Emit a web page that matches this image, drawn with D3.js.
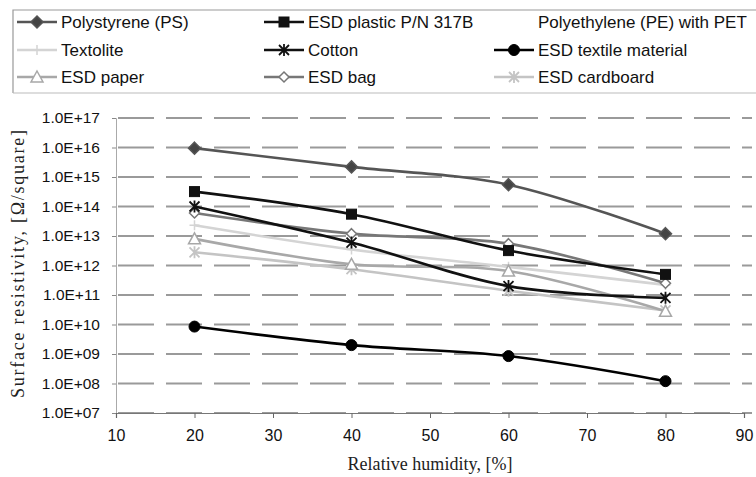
<!DOCTYPE html>
<html>
<head>
<meta charset="utf-8">
<script src="https://cdn.jsdelivr.net/npm/d3@7"></script>
<style>
  body { margin: 0; background: #fff; }
  svg { display: block; }
</style>
</head>
<body>
<svg id="chart" width="756" height="477"></svg>
<script>
// humidity points and resistivity values
const humidity = [20, 40, 60, 80];
const xTicks = [10, 20, 30, 40, 50, 60, 70, 80, 90];
const yTicks = [1e7, 1e8, 1e9, 1e10, 1e11, 1e12, 1e13, 1e14, 1e15, 1e16, 1e17];

const polystyrene = [9.5e15, 2.2e15, 5.5e14, 1.2e13];
const esdPlastic = [3.2e14, 5.5e13, 3.2e12, 5e11];
const polyethylenePET = [];
const textolite = [2.3e13, 3.5e12, 9e11, 2.2e11];
const cotton = [1e14, 6e12, 2e11, 8e10];
const esdTextile = [8.5e9, 2e9, 8.5e8, 1.2e8];
const esdPaper = [8e12, 1.1e12, 6.5e11, 2.8e10];
const esdBag = [6e13, 1.2e13, 5.5e12, 2.5e11];
const esdCardboard = [2.8e12, 7.5e11, 1.4e11, 3e10];

const seriesNames = [
  "Polystyrene (PS)", "ESD plastic P/N 317B", "Polyethylene (PE) with PET",
  "Textolite", "Cotton", "ESD textile material",
  "ESD paper", "ESD bag", "ESD cardboard"
];

const series = [
  { name: seriesNames[0], values: polystyrene, color: "#555", marker: "diamond", fill: "#444", size: 6 },
  { name: seriesNames[1], values: esdPlastic, color: "#111", marker: "square", fill: "#111", size: 5 },
  { name: seriesNames[2], values: polyethylenePET, color: "#fff", marker: "none", fill: "#fff", size: 0 },
  { name: seriesNames[3], values: textolite, color: "#d4d4d4", marker: "plus", fill: "none", size: 5 },
  { name: seriesNames[4], values: cotton, color: "#111", marker: "star", fill: "none", size: 5 },
  { name: seriesNames[5], values: esdTextile, color: "#000", marker: "circle", fill: "#000", size: 5.5 },
  { name: seriesNames[6], values: esdPaper, color: "#a8a8a8", marker: "triangle", fill: "#fff", size: 6 },
  { name: seriesNames[7], values: esdBag, color: "#777", marker: "diamond", fill: "#fff", size: 5 },
  { name: seriesNames[8], values: esdCardboard, color: "#c4c4c4", marker: "star", fill: "none", size: 5 }
];

const svg = d3.select("#chart");

const x = d3.scaleLinear().domain([10, 90]).range([116, 744]);
const y = d3.scaleLog().domain([1e7, 1e17]).range([413, 118]);

function fmtExp(v) {
  const e = Math.round(Math.log10(v));
  return "1.0E+" + String(e).padStart(2, "0");
}

// legend frame
svg.append("path")
  .attr("d", "M13,93 L13,10 L756,10")
  .attr("fill", "none")
  .attr("stroke", "#999")
  .attr("stroke-width", 1.2);
svg.append("line")
  .attr("x1", 13).attr("x2", 756).attr("y1", 93).attr("y2", 93)
  .attr("stroke", "#bbb").attr("stroke-width", 1);

// grid lines
svg.append("g")
  .selectAll("line")
  .data(yTicks)
  .join("line")
  .attr("x1", x(10) + 2)
  .attr("x2", 752)
  .attr("y1", (d) => y(d))
  .attr("y2", (d) => y(d))
  .attr("stroke", "#9a9a9a")
  .attr("stroke-width", 1.8)
  .attr("stroke-dasharray", "36,12");

// y axis
const yAxis = svg.append("g")
  .attr("transform", `translate(${x(10)},0)`)
  .call(d3.axisLeft(y).tickValues(yTicks).tickFormat(fmtExp).tickSize(4).tickPadding(12));
yAxis.select(".domain").attr("stroke", "#aaa");
yAxis.selectAll(".tick line").attr("stroke", "#888");
yAxis.selectAll("text")
  .attr("font-family", "Liberation Sans, Arial, sans-serif")
  .attr("font-size", 15.5)
  .attr("fill", "#111");

// x axis
const xAxis = svg.append("g")
  .attr("transform", `translate(0,${y(1e7)})`)
  .call(d3.axisBottom(x).tickValues(xTicks).tickFormat(d3.format("d")).tickSize(5).tickPadding(12));
xAxis.select(".domain").attr("stroke", "#777").attr("stroke-width", 1.2);
xAxis.selectAll(".tick line").attr("stroke", "#666");
xAxis.selectAll("text")
  .attr("font-family", "Liberation Sans, Arial, sans-serif")
  .attr("font-size", 16)
  .attr("fill", "#111");

// axis titles
svg.append("text")
  .attr("x", 430).attr("y", 470)
  .attr("text-anchor", "middle")
  .attr("font-family", "Liberation Serif, Times New Roman, serif")
  .attr("font-size", 18)
  .attr("fill", "#222")
  .attr("textLength", 165)
  .attr("lengthAdjust", "spacing")
  .text("Relative humidity, [%]");

svg.append("text")
  .attr("transform", "translate(24,264) rotate(-90)")
  .attr("text-anchor", "middle")
  .attr("font-family", "Liberation Serif, Times New Roman, serif")
  .attr("font-size", 18)
  .attr("fill", "#222")
  .attr("textLength", 268)
  .attr("lengthAdjust", "spacing")
  .text("Surface resistivity, [\u03A9/square]");

function drawMarker(g, type, color, fill, r) {
  if (type === "square") {
    g.append("rect").attr("x", -r).attr("y", -r).attr("width", 2 * r).attr("height", 2 * r)
      .attr("fill", fill).attr("stroke", color).attr("stroke-width", 1);
  } else if (type === "diamond") {
    g.append("path").attr("d", `M0,${-r}L${r},0L0,${r}L${-r},0Z`)
      .attr("fill", fill).attr("stroke", color).attr("stroke-width", 1.5);
  } else if (type === "circle") {
    g.append("circle").attr("r", r).attr("fill", fill).attr("stroke", color);
  } else if (type === "triangle") {
    g.append("path").attr("d", `M0,${-r}L${r},${r - 1}L${-r},${r - 1}Z`)
      .attr("fill", fill).attr("stroke", color).attr("stroke-width", 1.5);
  } else if (type === "star") {
    g.append("path").attr("d", `M${-r},${-r}L${r},${r}M${-r},${r}L${r},${-r}M0,${-r - 1}L0,${r + 1}`)
      .attr("stroke", color).attr("stroke-width", 1.8);
  } else if (type === "plus") {
    g.append("path").attr("d", `M${-r},0L${r},0M0,${-r}L0,${r}`)
      .attr("stroke", color).attr("stroke-width", 1.5);
  }
}

// lines, drawn light ones first
const line = d3.line()
  .x((d) => x(d[0]))
  .y((d) => y(d[1]))
  .curve(d3.curveCardinal);

const order = [3, 8, 6, 7, 2, 0, 1, 4, 5];
order.forEach((i) => {
  const s = series[i];
  if (!s.values.length) return;
  const pts = humidity.map((h, j) => [h, s.values[j]]);
  svg.append("path")
    .datum(pts)
    .attr("fill", "none")
    .attr("stroke", s.color)
    .attr("stroke-width", 2.6)
    .attr("d", line);
  pts.forEach((p) => {
    const g = svg.append("g").attr("transform", `translate(${x(p[0])},${y(p[1])})`);
    drawMarker(g, s.marker, s.color, s.fill, s.size);
  });
});

// legend
const colX = [17, 264, 494];
const rowY = [22, 50, 77];
series.forEach((s, i) => {
  const cx = colX[i % 3], cy = rowY[Math.floor(i / 3)];
  const g = svg.append("g").attr("transform", `translate(${cx},${cy})`);
  g.append("line").attr("x1", 0).attr("x2", 40).attr("y1", 0).attr("y2", 0)
    .attr("stroke", s.color).attr("stroke-width", 2.4);
  const m = g.append("g").attr("transform", "translate(20,0)");
  drawMarker(m, s.marker, s.color, s.fill, s.size);
  g.append("text")
    .attr("x", 44).attr("y", 6)
    .attr("font-family", "Liberation Sans, Arial, sans-serif")
    .attr("font-size", 17)
    .attr("fill", "#111")
    .text(s.name);
});
</script>
</body>
</html>
